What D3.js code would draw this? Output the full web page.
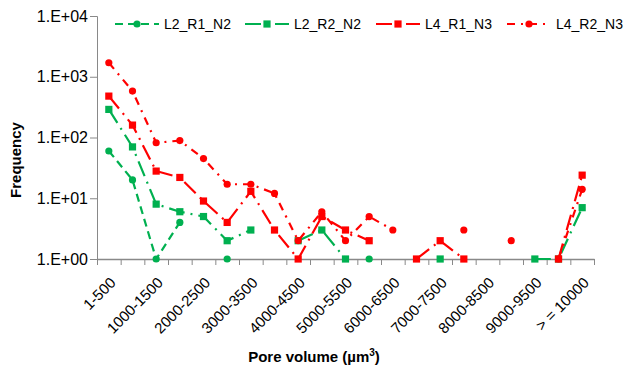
<!DOCTYPE html>
<html>
<head>
<meta charset="utf-8">
<script src="https://cdn.jsdelivr.net/npm/d3@7"></script>
<style>
  body { margin: 0; background: #fff; }
  text { font-family: "Liberation Sans", Arial, sans-serif; fill: #000; }
</style>
</head>
<body>
<div id="root"></div>
<script>
// pore volume classes (µm³)
const categories = [
  '1-500', '500-1000', '1000-1500', '1500-2000', '2000-2500', '2500-3000',
  '3000-3500', '3500-4000', '4000-4500', '4500-5000', '5000-5500', '5500-6000',
  '6000-6500', '6500-7000', '7000-7500', '7500-8000', '8000-8500', '8500-9000',
  '9000-9500', '9500-10000', '> = 10000'
];
const yTicks = [1, 10, 100, 1000, 10000];

// null = empty cell (gap in the line)
const l2r1n2 = [60, 20, 1, 4, null, 1, null, null, null, null, null, 1, null, null, null, null, null, null, null, null, null];
const l2r2n2 = [290, 70, 8, 6, 5, 2, 3, null, 2, 3, 1, null, null, null, 1, null, null, null, 1, 1, 7];
const l4r1n3 = [480, 160, 28, 22, 9, 4, 13, 3, 1, 5, 3, 2, null, 1, 2, 1, null, null, null, 1, 24];
const l4r2n3 = [1700, 580, 82, 89, 45, 17, 17, 12, 2, 6, 2, 5, 3, null, null, 3, null, 2, null, 1, 14];

const green = '#00b050';
const red = '#ff0000';

const series = [
  { name: 'L2_R1_N2', values: l2r1n2, color: green, marker: 'circle', dash: '8,5' },
  { name: 'L2_R2_N2', values: l2r2n2, color: green, marker: 'square', dash: '16,6,2,6' },
  { name: 'L4_R1_N3', values: l4r1n3, color: red, marker: 'square', dash: '16,6,2,6' },
  { name: 'L4_R2_N3', values: l4r2n3, color: red, marker: 'circle', dash: '8,6,2,6' }
];

const width = 627;
const height = 370;
const plotLeft = 97;
const plotRight = 594;
const plotTop = 16;
const plotBottom = 259;
const axisColor = '#898989';

const svg = d3.select('#root')
  .append('svg')
  .attr('width', width)
  .attr('height', height);

const x = d3.scaleBand()
  .domain(categories)
  .range([plotLeft, plotRight])
  .padding(0);

const xEdges = d3.scaleLinear()
  .domain([0, categories.length])
  .range([plotLeft, plotRight]);

const y = d3.scaleLog()
  .domain([1, 10000])
  .range([plotBottom, plotTop]);

// y axis
const yAxis = svg.append('g')
  .attr('transform', `translate(${ plotLeft },0)`)
  .call(d3.axisLeft(y)
    .tickValues(yTicks)
    .tickSize(7)
    .tickPadding(2)
    .tickFormat((d) => `1.E+0${ Math.round(Math.log10(d)) }`));
yAxis.select('.domain').attr('stroke', axisColor);
yAxis.selectAll('line').attr('stroke', axisColor);
yAxis.selectAll('text')
  .attr('font-size', '16px')
  .attr('font-family', '"Liberation Sans", Arial, sans-serif')
  .attr('fill', '#000');

// x axis: tick marks at class boundaries
const xTickAxis = svg.append('g')
  .attr('transform', `translate(0,${ plotBottom })`)
  .call(d3.axisBottom(xEdges)
    .tickValues(d3.range(0, categories.length + 1))
    .tickSize(6)
    .tickSizeOuter(0)
    .tickFormat(''));
xTickAxis.select('.domain').attr('stroke', axisColor).attr('stroke-width', 1.5);
xTickAxis.selectAll('line').attr('stroke', axisColor);

// x labels: every other class, rotated
svg.append('g')
  .selectAll('text')
  .data(categories.filter((_d, i) => i % 2 === 0))
  .enter()
  .append('text')
  .attr('text-anchor', 'end')
  .attr('font-size', '15px')
  .attr('dy', '0.35em')
  .attr('transform', (d) => `translate(${ x(d) + x.bandwidth() / 2 + 4 },${ plotBottom + 21 }) rotate(-45)`)
  .text((d) => d);

// axis titles
svg.append('text')
  .attr('x', 314)
  .attr('y', 362)
  .attr('text-anchor', 'middle')
  .attr('font-size', '15px')
  .attr('font-weight', 'bold')
  .html('Pore volume (µm<tspan dy="-6" font-size="10px">3</tspan><tspan dy="6">)</tspan>');

svg.append('text')
  .attr('transform', 'translate(21,160) rotate(-90)')
  .attr('text-anchor', 'middle')
  .attr('font-size', '15px')
  .attr('font-weight', 'bold')
  .text('Frequency');

// lines and markers
const line = d3.line()
  .defined((d) => d.v !== null)
  .x((d) => x(d.c) + x.bandwidth() / 2)
  .y((d) => y(d.v));

function drawMarker(g, type, color, cx, cy) {
  if (type === 'circle') {
    g.append('circle')
      .attr('cx', cx)
      .attr('cy', cy)
      .attr('r', 3.6)
      .attr('fill', color);
  } else {
    g.append('rect')
      .attr('x', cx - 3.6)
      .attr('y', cy - 3.6)
      .attr('width', 7.2)
      .attr('height', 7.2)
      .attr('fill', color);
  }
}

series.forEach((s) => {
  const pts = s.values.map((v, i) => ({ c: categories[i], v }));
  const g = svg.append('g');
  g.append('path')
    .attr('d', line(pts))
    .attr('fill', 'none')
    .attr('stroke', s.color)
    .attr('stroke-width', 2.2)
    .attr('stroke-dasharray', s.dash);
  pts.filter((p) => p.v !== null).forEach((p) => {
    drawMarker(g, s.marker, s.color, x(p.c) + x.bandwidth() / 2, y(p.v));
  });
});

// legend
const legendX = [115, 245, 376, 507];
const legend = svg.append('g');
series.forEach((s, i) => {
  const lx = legendX[i];
  const ly = 24;
  legend.append('line')
    .attr('x1', lx)
    .attr('x2', lx + 44)
    .attr('y1', ly)
    .attr('y2', ly)
    .attr('stroke', s.color)
    .attr('stroke-width', 2.2)
    .attr('stroke-dasharray', s.dash);
  drawMarker(legend, s.marker, s.color, lx + 22, ly);
  legend.append('text')
    .attr('x', lx + 49)
    .attr('y', ly)
    .attr('dy', '0.35em')
    .attr('font-size', '14px')
    .text(s.name);
});
</script>
</body>
</html>
